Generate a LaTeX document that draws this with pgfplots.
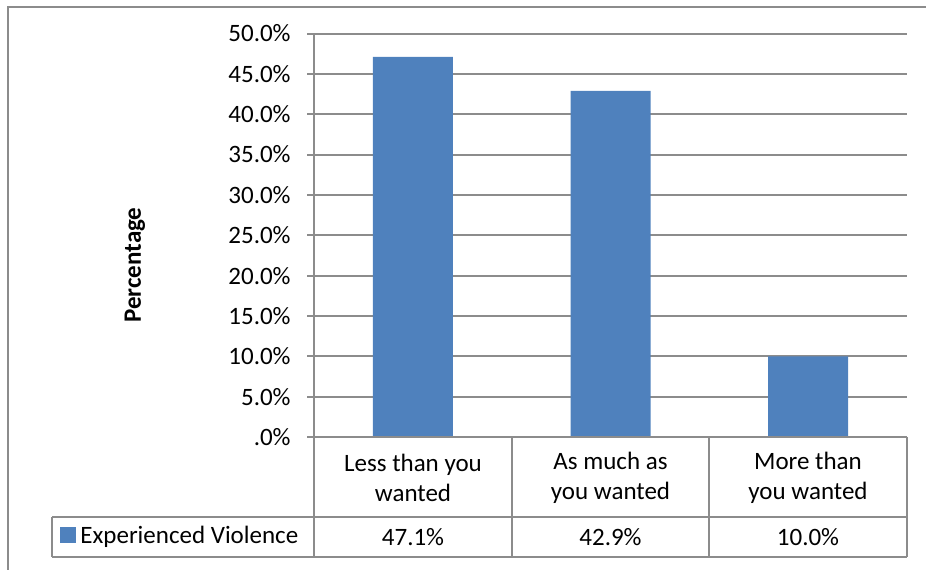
\documentclass[border=0pt]{standalone}
\usepackage{pgfplots}
\pgfplotsset{compat=1.18}
\usepackage{fontspec}
\setmainfont{Carlito}
\definecolor{barblue}{HTML}{4F81BD}
\definecolor{gridgray}{HTML}{8C8C8C}
\begin{document}
\fontsize{12.5bp}{15bp}\selectfont
\begin{tikzpicture}
\begin{axis}[
  at={(157bp,-218.5bp)}, anchor=south west,
  scale only axis, width=296.5bp, height=201.75bp,
  xmin=-0.5, xmax=2.5, ymin=0, ymax=0.5,
  ybar, bar width=40bp,
  axis x line=none,
  axis y line*=left,
  y axis line style={gridgray, line width=1bp, -},
  ytick={0,0.05,0.1,0.15,0.2,0.25,0.3,0.35,0.4,0.45,0.5},
  yticklabels={.0\%,5.0\%,10.0\%,15.0\%,20.0\%,25.0\%,30.0\%,35.0\%,40.0\%,45.0\%,50.0\%},
  yticklabel style={font=\fontsize{12.5bp}{15bp}\selectfont, inner sep=0pt, xshift=-8bp},
  tick align=outside, major tick length=3.5bp,
  ytick style={gridgray, line width=1bp},
  ymajorgrids, grid style={gridgray, line width=1bp},
  clip=false,
]
\addplot[fill=barblue, draw=none] coordinates {(0,0.471) (1,0.429) (2,0.100)};
\end{axis}
\begin{scope}[x=0.5bp,y=-0.5bp]
\useasboundingbox (0,0) rectangle (926,570);
\draw[gridgray, line width=1bp] (8,7) rectangle (934,578);
% data table
\begin{scope}[gridgray, line width=1bp]
\draw (314,437) -- (907,437);
\draw (52,517) -- (907,517);
\draw (52,557) -- (907,557);
\draw (52,517) -- (52,557);
\draw (314,437) -- (314,557);
\draw (512,437) -- (512,557);
\draw (709,437) -- (709,557);
\draw (907,437) -- (907,557);
\end{scope}
\fill[barblue] (60,527) rectangle (76,543);
\node[anchor=west, inner sep=0pt] at (80,537) {Experienced Violence};
\node[align=center, inner sep=0pt] at (413,478) {Less than you\\wanted};
\node[align=center, inner sep=0pt] at (610.5,478) {As much as\\you wanted};
\node[align=center, inner sep=0pt] at (808,478) {More than\\you wanted};
\node[inner sep=0pt] at (413,537) {47.1\%};
\node[inner sep=0pt] at (610.5,537) {42.9\%};
\node[inner sep=0pt] at (808,537) {10.0\%};
\node[rotate=90, font=\bfseries, inner sep=0pt] at (135,265) {Percentage};
\end{scope}
\end{tikzpicture}
\end{document}
